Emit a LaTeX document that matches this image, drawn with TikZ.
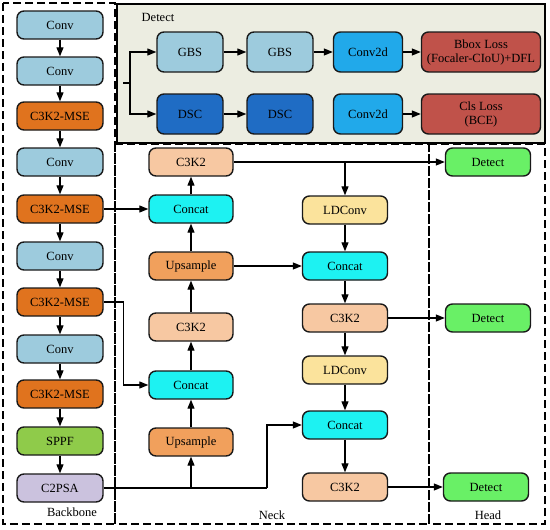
\documentclass[tikz,border=0pt]{standalone}
\usepackage{fontspec}
\setmainfont{Liberation Serif}
\usetikzlibrary{arrows.meta,positioning}
\definecolor{convc}{HTML}{9DCBDD}
\definecolor{msec}{HTML}{E0731E}
\definecolor{sppfc}{HTML}{8FCB4A}
\definecolor{psac}{HTML}{CBC2DE}
\definecolor{dscc}{HTML}{1F6CC4}
\definecolor{c2dc}{HTML}{21A9EA}
\definecolor{lossc}{HTML}{C0524A}
\definecolor{c3c}{HTML}{F7C8A2}
\definecolor{catc}{HTML}{1DF2F2}
\definecolor{upc}{HTML}{F1A05C}
\definecolor{ldc}{HTML}{FBE39C}
\definecolor{detc}{HTML}{69F066}
\definecolor{panelc}{HTML}{ECEDE1}
\begin{document}
\begin{tikzpicture}[x=1pt,y=-1pt,
    font=\rmfamily\fontsize{12.5}{14}\selectfont,
    blk/.style={draw=black!90, line width=1.4pt, rounded corners=7pt,
        minimum width=86pt, minimum height=28pt, inner sep=1pt, align=center},
    dblk/.style={blk, minimum width=66pt, minimum height=40pt},
    arr/.style={-{Triangle[length=9pt,width=7pt]}, line width=1.2pt},
    ln/.style={line width=1.2pt},
    region/.style={dashed, dash pattern=on 8pt off 4pt, line width=1.4pt}]
    \useasboundingbox (0,0) rectangle (550,530);
    % regions
    \draw[region] (3,3) rectangle (115,524);
    \draw[region] (115,144) rectangle (429,524);
    \draw[region] (429,144) rectangle (545,524);
    \node at (72,512) {Backbone};
    \node at (272,515) {Neck};
    \node at (488,515) {Head};
    % detect panel
    \draw[fill=panelc, line width=1.5pt] (117,4) rectangle (545,143);
    \node at (158,17) {Detect};
    \node[dblk, fill=convc] (g1) at (190,52) {GBS};
    \node[dblk, fill=convc] (g2) at (280,52) {GBS};
    \node[dblk, fill=c2dc, minimum width=69pt] (c1) at (368,52) {Conv2d};
    \node[dblk, fill=lossc, minimum width=119pt] (bb) at (481,52) {Bbox Loss\\(Focaler-CIoU)+DFL};
    \node[dblk, fill=dscc] (d1) at (190,114) {DSC};
    \node[dblk, fill=dscc] (d2) at (280,114) {DSC};
    \node[dblk, fill=c2dc, minimum width=69pt] (c2) at (368,114) {Conv2d};
    \node[dblk, fill=lossc, minimum width=119pt] (cl) at (481,114) {Cls Loss\\(BCE)};
    \coordinate (s0) at (123,83);
    \coordinate (s1) at (130,83);
    \draw[ln] (s0) -- (s1);
    \draw[arr] (s1) |- (g1.west);
    \draw[arr] (s1) |- (d1.west);
    \draw[arr] (g1) -- (g2);
    \draw[arr] (g2) -- (c1);
    \draw[arr] (c1) -- (bb);
    \draw[arr] (d1) -- (d2);
    \draw[arr] (c2) -- (cl);
    % backbone
    \node[blk, fill=convc] (b1) at (60,25) {Conv};
    \node[blk, fill=convc] (b2) at (60,71) {Conv};
    \node[blk, fill=msec] (b3) at (60,116) {C3K2-MSE};
    \node[blk, fill=convc] (b4) at (60,162) {Conv};
    \node[blk, fill=msec] (b5) at (60,209) {C3K2-MSE};
    \node[blk, fill=convc] (b6) at (60,256) {Conv};
    \node[blk, fill=msec] (b7) at (60,302) {C3K2-MSE};
    \node[blk, fill=convc] (b8) at (60,349) {Conv};
    \node[blk, fill=msec] (b9) at (60,394) {C3K2-MSE};
    \node[blk, fill=sppfc] (b10) at (60,441) {SPPF};
    \node[blk, fill=psac] (b11) at (60,488) {C2PSA};
    \foreach \i [remember=\i as \j (initially 1)] in {2,...,11}
        \draw[arr] (b\j) -- (b\i);
    % neck
    \node[blk, fill=c3c, minimum width=84pt] (n1) at (191,162) {C3K2};
    \node[blk, fill=catc, minimum width=84pt] (n2) at (191,209) {Concat};
    \node[blk, fill=upc, minimum width=84pt] (n3) at (191,266) {Upsample};
    \node[blk, fill=c3c, minimum width=84pt] (n4) at (191,327) {C3K2};
    \node[blk, fill=catc, minimum width=84pt] (n5) at (191,385) {Concat};
    \node[blk, fill=upc, minimum width=84pt] (n6) at (191,442) {Upsample};
    \node[blk, fill=ldc, minimum width=85pt] (m1) at (345,210) {LDConv};
    \node[blk, fill=catc, minimum width=85pt] (m2) at (345,266) {Concat};
    \node[blk, fill=c3c, minimum width=85pt] (m3) at (345,318) {C3K2};
    \node[blk, fill=ldc, minimum width=85pt] (m4) at (345,370) {LDConv};
    \node[blk, fill=catc, minimum width=85pt] (m5) at (345,425) {Concat};
    \node[blk, fill=c3c, minimum width=85pt] (m6) at (345,487) {C3K2};
    % head
    \node[blk, fill=detc, minimum width=85pt] (h1) at (488,162) {Detect};
    \node[blk, fill=detc, minimum width=85pt] (h2) at (488,318) {Detect};
    \node[blk, fill=detc, minimum width=85pt] (h3) at (486,487) {Detect};
    % neck links
    \draw[arr] (n6) -- (n5);
    \draw[arr] (n5) -- (n4);
    \draw[arr] (n4) -- (n3);
    \draw[arr] (n3) -- (n2);
    \draw[arr] (n2) -- (n1);
    \draw[arr] (m1) -- (m2);
    \draw[arr] (m2) -- (m3);
    \draw[arr] (m3) -- (m4);
    \draw[arr] (m4) -- (m5);
    \draw[arr] (m5) -- (m6);
    \draw[arr] (b5) -- (n2);
    \draw[arr] (b7.east) -- ++(20,0) |- (n5.west);
    \coordinate (p0) at (n6.south |- b11.east);
    \coordinate (p1) at (267,488);
    \draw[ln] (b11.east) -- (p1);
    \draw[arr] (p0) -- (n6.south);
    \draw[arr] (p1) |- (m5.west);
    \draw[arr] (n3) -- (m2);
    \draw[arr] (n1.east) -- (h1.west);
    \draw[arr] (m1.north |- n1.east) -- (m1.north);
    \draw[arr] (m3) -- (h2);
    \draw[arr] (m6) -- (h3);
\end{tikzpicture}
\end{document}
